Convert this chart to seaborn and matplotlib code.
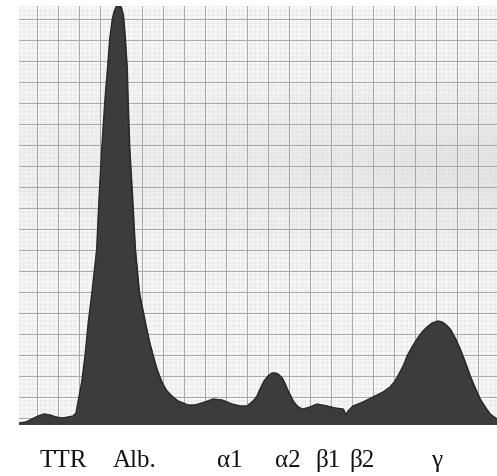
import numpy as np
import matplotlib
matplotlib.use("Agg")
import matplotlib.pyplot as plt
import seaborn as sns
import pandas as pd

# densitometer trace (position along strip, height above baseline)
position = [19, 26, 32, 38, 44, 50, 56, 62, 68, 73, 76, 78, 81.7, 85, 88.3, 92, 96.7, 99,
            101.7, 105, 107.7, 109.7, 112.3, 114, 116, 118.5, 121, 123, 124, 125, 126.7,
            127.7, 129.3, 132.3, 135, 139, 145, 149, 153, 157, 161.7, 166, 171.7, 178, 188,
            195, 205, 213, 222, 232, 240, 247, 253, 257, 260, 264, 268, 272, 275, 278, 282,
            285, 287, 290, 293, 297, 300, 303, 310, 317, 327, 335, 343, 346, 348, 353, 363,
            373, 383, 390, 395, 400, 404, 407, 412, 417, 422, 427, 432, 438, 442, 445, 450,
            455, 460, 465, 470, 475, 480, 485, 490, 494, 497]
height = [1, 2, 5, 8, 10, 9, 7, 6, 7, 8, 11, 22, 42, 68, 102, 132, 175, 225,
          275, 325, 358, 385, 405, 412, 417, 418, 417, 409, 398, 385, 358,
          325, 277, 225, 175, 132, 102, 83, 68, 54, 42, 34, 28, 23, 19,
          19, 22, 25, 24, 20, 18, 18, 23, 28, 35, 43, 48, 51, 51, 50, 46,
          40, 35, 29, 23, 18, 16, 15, 17, 20, 18, 16, 15, 9, 13, 18, 22,
          27, 32, 37, 43, 52, 60, 68, 77, 85, 92, 97, 101, 103, 102, 100, 95,
          86, 75, 62, 48, 36, 25, 17, 10, 7, 5]

fraction_labels = ["TTR", "Alb.", "α1", "α2", "β1", "β2", "γ"]
label_pos = [63, 135, 230, 288, 328, 362, 437]

df = pd.DataFrame({"position": position, "height": height})

sns.set_style("white")
plt.rcParams["font.family"] = ["Liberation Serif", "DejaVu Serif"]

fig = plt.figure(figsize=(4.97, 4.77), dpi=100)
ax = fig.add_axes([19 / 497, 52 / 477, 478 / 497, 418 / 477])

# paper shading
yy = np.linspace(0, 1, 200)[:, None]
xx = np.linspace(0, 1, 200)[None, :]
shade = 0.975 - 0.075 * np.exp(-((yy - 0.62) / 0.17) ** 2) * (0.3 + 0.7 * xx)
ax.imshow(shade, extent=[19, 497, 0, 418], cmap="gray", vmin=0, vmax=1,
          aspect="auto", zorder=0, origin="lower")

# graph paper grid
for gx in np.arange(16, 497, 4.2):
    ax.axvline(gx, color="#dadada", lw=0.35, zorder=1)
for gy in np.arange(6, 418, 4.2):
    ax.axhline(gy, color="#dadada", lw=0.35, zorder=1)
for gx in np.arange(16, 497, 21):
    ax.axvline(gx, color="#a8a8a8", lw=0.7, zorder=1)
for gy in np.arange(6, 418, 21):
    ax.axhline(gy, color="#a8a8a8", lw=0.7, zorder=1)

ax.fill_between(df["position"], 0, df["height"], color="#3c3c3c", zorder=3)
sns.lineplot(data=df, x="position", y="height", ax=ax, color="#2a2a2a", lw=1.0, zorder=4)

ax.set_xlim(19, 497)
ax.set_ylim(0, 418)
ax.set_xticks([])
ax.set_yticks([])
ax.set_xlabel("")
ax.set_ylabel("")
for s in ax.spines.values():
    s.set_visible(False)

for lab, xp in zip(fraction_labels, label_pos):
    ax.text(xp, -36, lab, ha="center", va="center", fontsize=18, color="#111111",
            clip_on=False)

fig.savefig("out.png", dpi=100, facecolor="white")
